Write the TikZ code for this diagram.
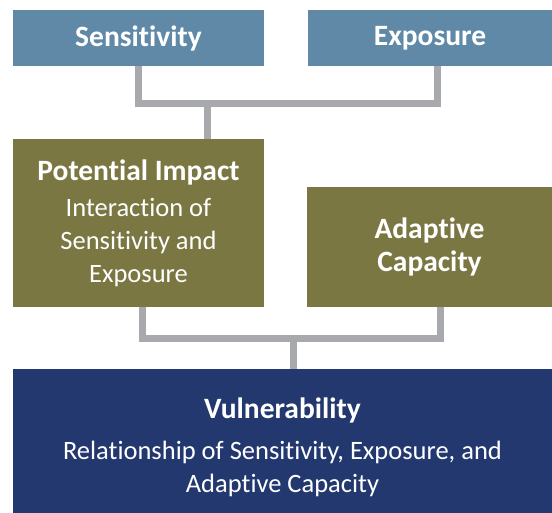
\documentclass[tikz,border=0pt]{standalone}
\usepackage{fontspec}
\setmainfont{Carlito}[RawFeature={-liga;-clig;-dlig;-calt}]
\usetikzlibrary{positioning,calc}
\definecolor{steelblue}{RGB}{96,137,168}
\definecolor{olivebox}{RGB}{122,119,66}
\definecolor{navybox}{RGB}{35,56,110}
\definecolor{linkgray}{RGB}{167,169,172}
\newcommand{\headsize}{\fontsize{29.5}{35}\selectfont}
\newcommand{\bodysize}{\fontsize{26.5}{33}\selectfont}
\tikzstyle{box} = [rectangle, inner sep=0pt, text=white, align=center, font=\bodysize]
\tikzstyle{bluebox} = [box, fill=steelblue, font=\headsize\bfseries]
\tikzstyle{olivebox} = [box, fill=olivebox]
\tikzstyle{navybox} = [box, fill=navybox]
\tikzstyle{link} = [draw=linkgray, line width=7pt]

\begin{document}
\begin{tikzpicture}[x=1pt,y=-1pt]
\useasboundingbox (0,0) rectangle (552,512);
% top row
\node (sens) at (138.5,38) [bluebox, minimum width=251pt, minimum height=56pt] {Sensitivity};
\node (expo) at (430,38) [bluebox, minimum width=244pt, minimum height=56pt] {Exposure};
% middle row
\node (pot) at (138.5,223) [olivebox, minimum width=251pt, minimum height=168pt]
  {{\headsize\bfseries Potential Impact}\\[3pt] Interaction of\\ Sensitivity and\\ Exposure};
\node (adap) at (429.5,247) [olivebox, minimum width=245pt, minimum height=120pt, font=\headsize\bfseries]
  {\raisebox{-2pt}{Adaptive}\\ Capacity};
% bottom
\node (vuln) at (282.5,447) [navybox, minimum width=539pt, minimum height=156pt]
  {{\headsize\bfseries Vulnerability}\\[8pt] Relationship of Sensitivity, Exposure, and\\ Adaptive Capacity};
% connectors
\coordinate (j1) at (207,103);
\coordinate (j2) at (293,338);
\draw[link] (sens.south) |- (j1) -| ([xshift=7pt]expo.south);
\draw[link] (j1) -- (j1 |- pot.north);
\draw[link] ([xshift=3.5pt]pot.south) |- (j2) -| ([xshift=10.5pt]adap.south);
\draw[link] (j2) -- (j2 |- vuln.north);
\end{tikzpicture}
\end{document}
